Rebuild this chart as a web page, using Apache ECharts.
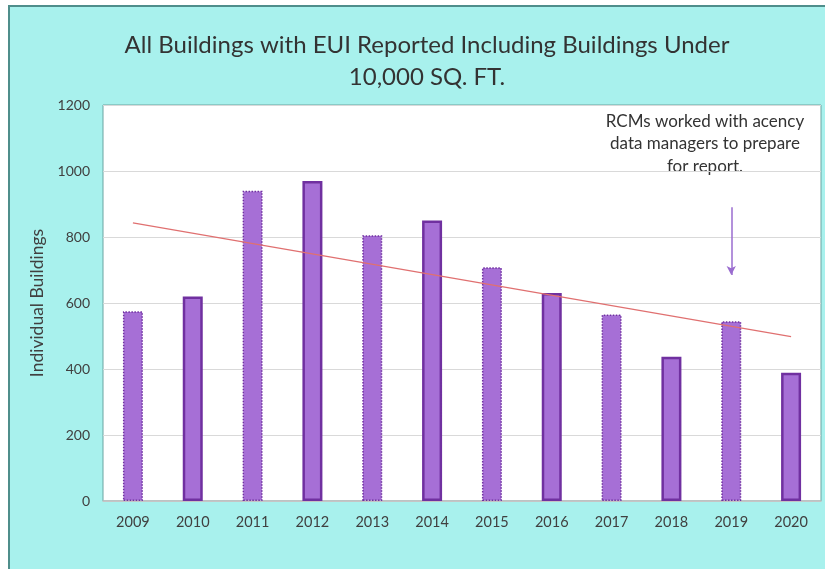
<!DOCTYPE html>
<html>
<head>
<meta charset="utf-8">
<script src="https://cdn.jsdelivr.net/npm/echarts@6/dist/echarts.min.js"></script>
<style>
  html, body { margin: 0; padding: 0; background: #fff; }
  #frame {
    position: absolute; left: 8px; top: 5px; right: 0; bottom: 0;
    background: #a8f1ed;
    border-left: 2px solid #4f8e8b;
    border-top: 2px solid #4f8e8b;
  }
  #chart { position: absolute; left: 0; top: 0; width: 825px; height: 569px; }
</style>
</head>
<body>
<div id="frame"></div>
<div id="chart"></div>
<script>
const years = ['2009', '2010', '2011', '2012', '2013', '2014', '2015', '2016', '2017', '2018', '2019', '2020']
const buildings = [575, 620, 940, 970, 805, 850, 708, 630, 565, 437, 545, 389]
// trend line end points (2009 -> 2020)
const trendEnds = [843, 498]
// annotation arrow at 2019, top and tip values
const arrowEnds = [890, 685]
const yTicks = { min: 0, max: 1200, interval: 200 }

const fontFamily = 'Lato, "Open Sans", sans-serif'
const barFill = '#a66fd6'
const barEdge = '#7030a0'

const barData = buildings.map((v, i) => {
  const dotted = i % 2 === 0
  return {
    value: v,
    itemStyle: {
      color: barFill,
      borderColor: barEdge,
      borderWidth: dotted ? 1.5 : 2.5,
      borderType: dotted ? 'dotted' : 'solid',
    },
  }
})

const chart = echarts.init(document.getElementById('chart'))
chart.setOption({
  animation: false,
  textStyle: { fontFamily },
  graphic: [
    {
      type: 'text', x: 427, y: 29,
      style: {
        text: 'All Buildings with EUI Reported Including Buildings Under\n10,000 SQ. FT.',
        align: 'center', verticalAlign: 'top',
        fontSize: 24, lineHeight: 32, fill: '#333', fontFamily,
      },
    },
    {
      type: 'text', x: 705, y: 110,
      style: {
        text: 'RCMs worked with acency\ndata managers to prepare\nfor report.',
        align: 'center', verticalAlign: 'top',
        fontSize: 17, lineHeight: 22.5, fill: '#333', fontFamily,
      },
    },
  ],
  grid: {
    left: 103, right: 4, top: 105, bottom: 68,
    show: true, backgroundColor: '#fff', borderColor: '#6aa4a1', borderWidth: 1,
  },
  xAxis: {
    type: 'category',
    data: years,
    axisLine: { lineStyle: { color: '#bfbfbf', width: 1.5 } },
    axisTick: { show: false },
    axisLabel: { color: '#404040', fontSize: 14.5, margin: 14, fontFamily },
  },
  yAxis: {
    type: 'value',
    min: yTicks.min, max: yTicks.max, interval: yTicks.interval,
    name: 'Individual Buildings',
    nameLocation: 'middle',
    nameGap: 49,
    nameTextStyle: { color: '#404040', fontSize: 17.5, fontFamily },
    axisLine: { show: false },
    axisTick: { show: false },
    axisLabel: { color: '#404040', fontSize: 14, margin: 13, fontFamily, formatter: v => String(v) },
    splitLine: { lineStyle: { color: '#d9d9d9', width: 1.2 } },
  },
  series: [
    {
      type: 'bar',
      data: barData,
      barWidth: 20,
      markLine: {
        silent: true,
        label: { show: false },
        data: [
          [
            { coord: [years[0], trendEnds[0]], symbol: 'none', lineStyle: { color: '#e07070', width: 1.2, type: 'solid' } },
            { coord: [years[years.length - 1], trendEnds[1]], symbol: 'none' },
          ],
          [
            { coord: ['2019', arrowEnds[0]], symbol: 'none', lineStyle: { color: '#9a6ccf', width: 1.5, type: 'solid' } },
            { coord: ['2019', arrowEnds[1]], symbol: 'arrow', symbolSize: [7, 9] },
          ],
        ],
      },
    },
  ],
})
</script>
</body>
</html>
